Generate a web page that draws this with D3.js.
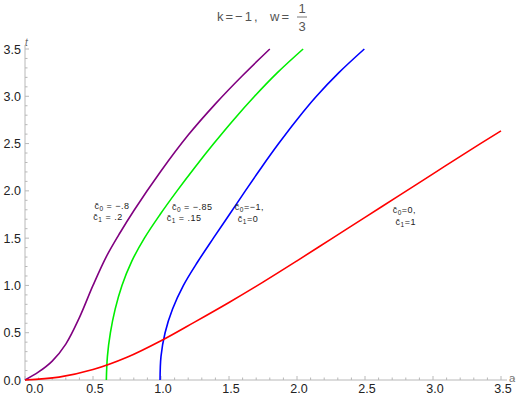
<!DOCTYPE html>
<html>
<head>
<meta charset="utf-8">
<script src="https://cdn.jsdelivr.net/npm/d3@7"></script>
<style>
  body { margin: 0; background: #fff; }
  svg { font-family: "Liberation Sans", Arial, sans-serif; }
</style>
</head>
<body>
<div id="chart"></div>
<script>
// curve samples (a, t)
var purpleA = [0, 0.1, 0.2, 0.3, 0.4, 0.5, 0.6, 0.7, 0.8, 1.0, 1.2, 1.4, 1.6, 1.8];
var purpleT = [0, 0.085, 0.2, 0.38, 0.66, 1.0, 1.31, 1.56, 1.79, 2.21, 2.59, 2.92, 3.22, 3.50];

var greenT = [0, 0.25, 0.5, 0.75, 1.0, 1.25, 1.5, 1.75, 2.0, 2.25, 2.5, 2.75, 3.0, 3.25, 3.5];
var greenA = [0.598, 0.606, 0.628, 0.663, 0.713, 0.783, 0.878, 0.993, 1.118, 1.25, 1.388, 1.533, 1.688, 1.856, 2.045];

var blueT = [0, 0.25, 0.5, 0.75, 1.0, 1.25, 1.5, 1.75, 2.0, 2.25, 2.5, 2.75, 3.0, 3.25, 3.5];
var blueA = [0.993, 1.0, 1.03, 1.085, 1.165, 1.27, 1.385, 1.503, 1.62, 1.74, 1.865, 1.998, 2.143, 2.308, 2.495];

var redA = [0, 0.25, 0.5, 0.75, 1.0, 1.25, 1.5, 1.75, 2.0, 2.25, 2.5, 2.75, 3.0, 3.25, 3.5];
var redT = [0, 0.03, 0.11, 0.24, 0.415, 0.615, 0.82, 1.035, 1.26, 1.49, 1.72, 1.95, 2.18, 2.41, 2.635];

var xTicks = [0, 0.5, 1, 1.5, 2, 2.5, 3, 3.5];
var yTicks = [0, 0.5, 1, 1.5, 2, 2.5, 3, 3.5];

// label rows: subscript, rest of text, a, t (text anchor)
var series = [
    { a: purpleA, t: purpleT, colour: "#800080",
      label: [["0", " = \u2212.8", 0.64, 1.81], ["1", " = .2", 0.61, 1.69]] },
    { a: greenA, t: greenT, colour: "#00ee00",
      label: [["0", " = \u2212.85", 1.23, 1.80], ["1", " = .15", 1.17, 1.68]] },
    { a: blueA, t: blueT, colour: "#0000ff",
      label: [["0", "=\u22121,", 1.65, 1.80], ["1", "=0", 1.64, 1.67]] },
    { a: redA, t: redT, colour: "#ff0000",
      label: [["0", "=0,", 2.79, 1.77], ["1", "=1", 2.80, 1.64]] }
];

var width = 519, height = 395;
var svg = d3.select("#chart").append("svg")
    .attr("width", width)
    .attr("height", height);

var x = d3.scaleLinear().domain([0, 3.5]).range([25, 501]);
var y = d3.scaleLinear().domain([0, 3.5]).range([380, 49]);

var axisColour = "#b8b8b8";

// axes lines
svg.append("line")
    .attr("x1", x(0)).attr("x2", 507)
    .attr("y1", y(0)).attr("y2", y(0))
    .attr("stroke", axisColour);
svg.append("line")
    .attr("x1", x(0)).attr("x2", x(0))
    .attr("y1", y(0)).attr("y2", 45)
    .attr("stroke", axisColour);

// minor + major ticks, pointing inward
var minor = d3.range(0, 36).map(function (i) { return i / 10; });
svg.append("g").selectAll("line")
    .data(minor.concat([3.6]))
    .enter().append("line")
    .attr("x1", function (d) { return x(d); })
    .attr("x2", function (d) { return x(d); })
    .attr("y1", y(0))
    .attr("y2", function (d, i) { return y(0) - (i % 5 === 0 ? 4 : 2.5); })
    .attr("stroke", axisColour);
svg.append("g").selectAll("line")
    .data(minor)
    .enter().append("line")
    .attr("y1", function (d) { return y(d); })
    .attr("y2", function (d) { return y(d); })
    .attr("x1", x(0))
    .attr("x2", function (d, i) { return x(0) + (i % 5 === 0 ? 4 : 2.5); })
    .attr("stroke", axisColour);

// tick labels
svg.append("g").selectAll("text")
    .data(xTicks)
    .enter().append("text")
    .attr("x", function (d) { return d === 0 ? x(0) + 1 : x(d) + 2; })
    .attr("y", 393)
    .attr("text-anchor", function (d) { return d === 0 ? "start" : "middle"; })
    .attr("font-size", "12.5px")
    .attr("fill", "#222")
    .text(function (d) { return d3.format(".1f")(d); });
svg.append("g").selectAll("text")
    .data(yTicks)
    .enter().append("text")
    .attr("x", 21)
    .attr("y", function (d) { return y(d) + 4.5; })
    .attr("text-anchor", "end")
    .attr("font-size", "12.5px")
    .attr("fill", "#222")
    .text(function (d) { return d3.format(".1f")(d); });

// axis names
svg.append("text").attr("x", 25).attr("y", 46)
    .attr("font-size", "10px").attr("font-style", "italic").attr("fill", "#666")
    .text("t");
svg.append("text").attr("x", 509).attr("y", 382)
    .attr("font-size", "11px").attr("fill", "#777")
    .text("a");

// title
var title = svg.append("g").attr("fill", "#555").attr("font-size", "13px");
title.append("text").attr("x", 217).attr("y", 21).attr("letter-spacing", "2px").text("k=\u22121,");
title.append("text").attr("x", 270).attr("y", 21).attr("letter-spacing", "2px").text("w=");
title.append("text").attr("x", 302).attr("y", 13).attr("text-anchor", "middle").text("1");
title.append("text").attr("x", 302).attr("y", 31).attr("text-anchor", "middle").text("3");
title.append("line").attr("x1", 297).attr("x2", 307).attr("y1", 17).attr("y2", 17)
    .attr("stroke", "#555").attr("stroke-width", 0.8);

// curves
var line = d3.line()
    .x(function (d) { return x(d[0]); })
    .y(function (d) { return y(d[1]); })
    .curve(d3.curveCatmullRom.alpha(0.5));

series.forEach(function (s) {
    var pts = s.a.map(function (v, i) { return [v, s.t[i]]; });
    svg.append("path")
        .datum(pts)
        .attr("fill", "none")
        .attr("stroke", s.colour)
        .attr("stroke-width", 1.6)
        .attr("d", line);
});

// curve labels  c̄0 / c̄1
series.forEach(function (s) {
    var g = svg.append("g").attr("font-size", "9px").attr("fill", "#222")
        .attr("letter-spacing", "0.5px");
    s.label.forEach(function (row) {
        var txt = g.append("text")
            .attr("x", x(row[2]))
            .attr("y", y(row[3]))
            .attr("text-anchor", "middle");
        txt.append("tspan").text("c\u0304");
        txt.append("tspan").attr("font-size", "6.5px").attr("dy", 2).text(row[0]);
        txt.append("tspan").attr("dy", -2).text(row[1]);
    });
});
</script>
</body>
</html>
